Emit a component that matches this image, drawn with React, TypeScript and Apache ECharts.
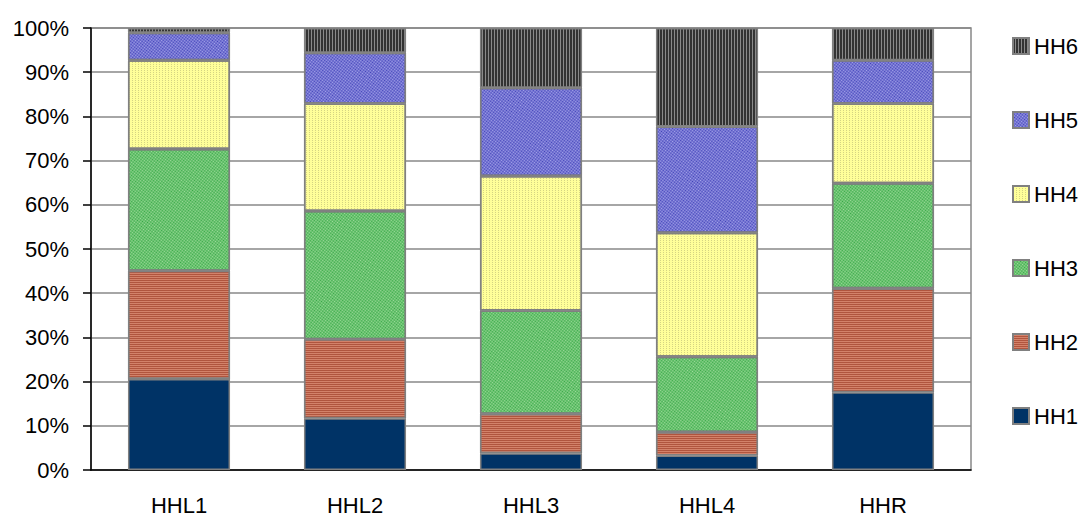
import React, { useEffect, useRef } from "react";
import * as echarts from "echarts";

const categories = ["HHL1", "HHL2", "HHL3", "HHL4", "HHR"];
const hh1 = [20.6, 11.7, 3.8, 3.3, 17.6];
const hh2 = [24.5, 17.9, 8.9, 5.3, 23.5];
const hh3 = [27.5, 29.0, 23.4, 17.0, 23.8];
const hh4 = [20.1, 24.3, 30.4, 28.1, 18.0];
const hh5 = [6.2, 11.5, 20.0, 24.0, 9.8];
const hh6 = [1.1, 5.6, 13.5, 22.3, 7.3];
const seriesNames = ["HH1", "HH2", "HH3", "HH4", "HH5", "HH6"];
const yTicks = [0, 10, 20, 30, 40, 50, 60, 70, 80, 90, 100];

const FONT = "'Liberation Sans', Arial, sans-serif";

export default function App() {
  const ref = useRef<HTMLDivElement>(null);
  useEffect(() => {
    if (!ref.current) return;
    const chart = echarts.init(ref.current, undefined, { renderer: "svg" });
    const values = [hh1, hh2, hh3, hh4, hh5, hh6];
    const styles: any[] = [
      { color: "#003366", decal: "none" },
      {
        color: "#D3826A",
        decal: { symbol: "rect", symbolSize: 1, color: "#B0553E", dashArrayX: [1, 0], dashArrayY: [1, 1] },
      },
      {
        color: "#A0DC9C",
        decal: { symbol: "rect", symbolSize: 1, color: "#34A844", dashArrayX: [[1, 1], [0, 1, 1, 0]], dashArrayY: [1, 0], rotation: 0.4 },
      },
      {
        color: "#FFFF99",
        decal: { symbol: "rect", symbolSize: 1, color: "rgba(170,170,110,0.5)", dashArrayX: [1, 2], dashArrayY: [1, 1] },
      },
      {
        color: "#A8A8EC",
        decal: { symbol: "rect", symbolSize: 1, color: "#4040B8", dashArrayX: [[1, 1], [0, 1, 1, 0]], dashArrayY: [1, 0], rotation: 0.4 },
      },
      {
        color: "#8A8A8A",
        decal: { symbol: "rect", symbolSize: 1, color: "#333333", dashArrayX: [2, 1], dashArrayY: [1, 0] },
      },
    ];
    chart.setOption({
      animation: false,
      grid: {
        left: 91,
        top: 28,
        right: 111,
        bottom: 46,
        show: true,
        borderColor: "#888888",
        borderWidth: 1.5,
        containLabel: false,
      },
      legend: {
        orient: "vertical",
        left: 1007,
        top: 30,
        data: seriesNames.slice().reverse(),
        itemWidth: 16,
        itemHeight: 16,
        itemGap: 52,
        icon: "rect",
        textStyle: { fontFamily: FONT, fontSize: 22, color: "#000", lineHeight: 18, padding: [0, 0, 0, 0] },
      },
      xAxis: {
        type: "category",
        data: categories,
        axisLine: { show: true, lineStyle: { color: "#000", width: 1.5 } },
        axisTick: { show: false },
        axisLabel: { fontFamily: FONT, fontSize: 22, color: "#000", margin: 24 },
        splitLine: { show: false },
      },
      yAxis: {
        type: "value",
        min: yTicks[0],
        max: yTicks[yTicks.length - 1],
        interval: 10,
        axisLine: { show: true, lineStyle: { color: "#000", width: 1.5 } },
        axisTick: { show: true, inside: false, length: 8, lineStyle: { color: "#000", width: 1.5 } },
        axisLabel: { fontFamily: FONT, fontSize: 22, color: "#000", margin: 22, formatter: (v: number) => v + "%" },
        splitLine: { show: true, lineStyle: { color: "#888888", width: 1.5 } },
      },
      series: values.map((d, i) => ({
        name: seriesNames[i],
        type: "bar",
        stack: "total",
        data: d,
        barCategoryGap: "42%",
        itemStyle: { ...styles[i], borderColor: "#808080", borderWidth: 1.5 },
      })),
    });
    return () => chart.dispose();
  }, []);
  return <div ref={ref} style={{ position: "fixed", left: 0, top: 0, width: 1082, height: 516, background: "#fff" }} />;
}
